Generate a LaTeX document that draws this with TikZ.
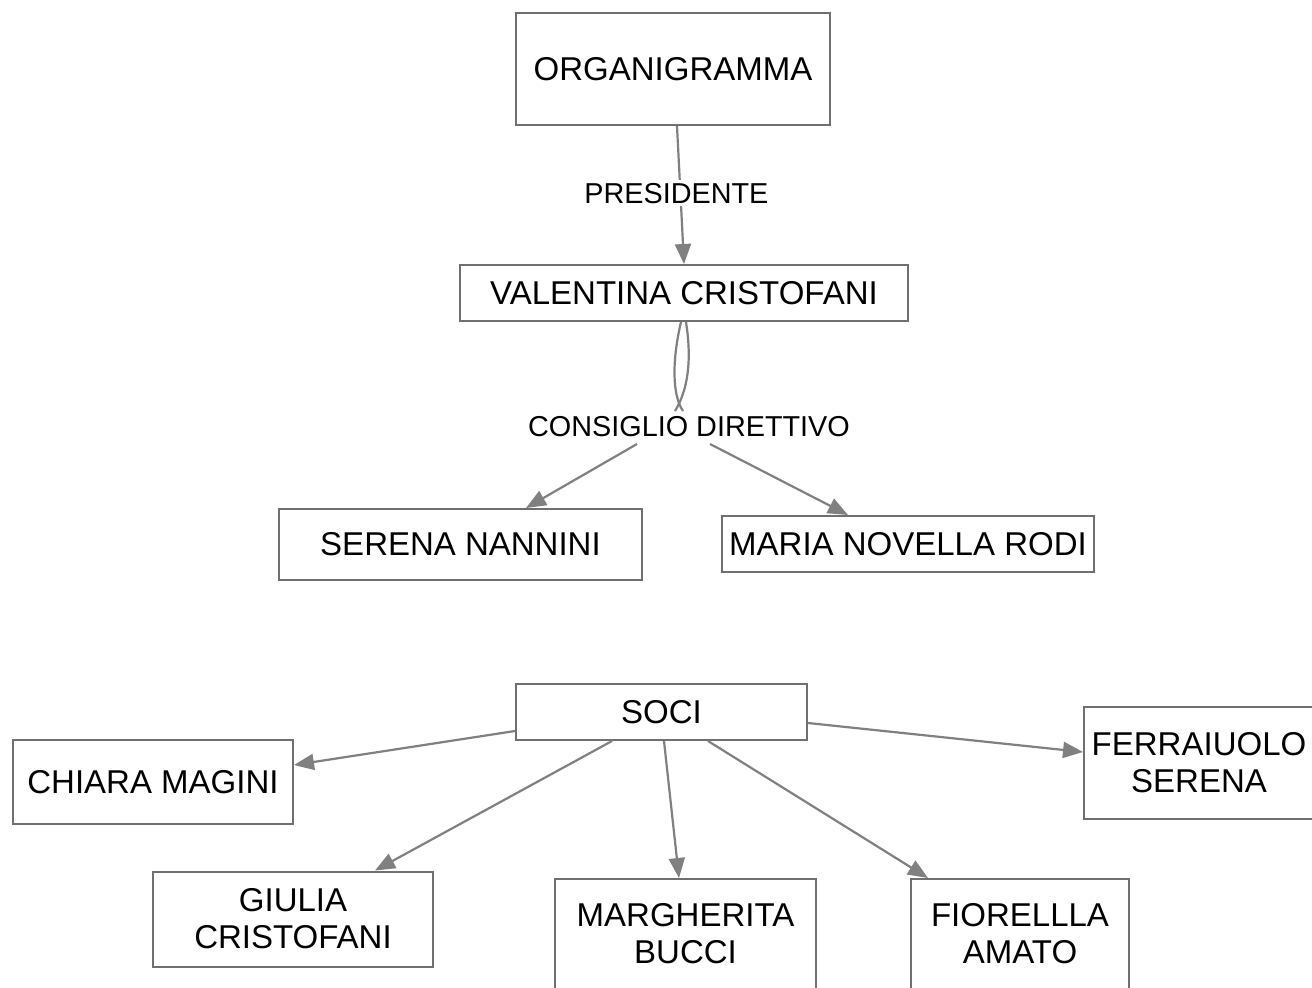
\documentclass[tikz,border=0pt]{standalone}
\usepackage{fontspec}
\setmainfont{Liberation Sans}
\usetikzlibrary{arrows.meta}
\definecolor{edgegray}{HTML}{808080}
\definecolor{boxgray}{HTML}{707070}
\tikzset{
  box/.style={draw=boxgray, line width=2pt, fill=white, inner sep=0pt, align=center,
    font=\fontsize{33}{37}\selectfont},
  lbl/.style={fill=white, inner sep=3pt, font=\fontsize{28.8}{32}\selectfont},
  conn/.style={draw=edgegray, line width=2.2pt},
  arr/.style={conn, -{Triangle[length=20pt,width=16pt]}}
}
\begin{document}
\begin{tikzpicture}[x=1pt,y=-1pt]
\useasboundingbox (0,0) rectangle (1312,988);
% nodes
\node[box, minimum width=314pt, minimum height=112pt] (org) at (673,69) {ORGANIGRAMMA};
\node[box, minimum width=448pt, minimum height=56pt] (val) at (684,293) {VALENTINA CRISTOFANI};
\node[box, minimum width=363pt, minimum height=71pt] (sere) at (460.5,544.5) {SERENA NANNINI};
\node[box, minimum width=372pt, minimum height=56pt] (maria) at (908,544) {MARIA NOVELLA RODI};
\node[box, minimum width=291pt, minimum height=56pt] (soci) at (661.5,712) {SOCI};
\node[box, minimum width=280pt, minimum height=84pt] (chiara) at (153,782) {CHIARA MAGINI};
\node[box, minimum width=230pt, minimum height=112pt] (ferr) at (1199,763) {FERRAIUOLO\\SERENA};
\node[box, minimum width=280pt, minimum height=95pt] (giulia) at (293,919) {GIULIA\\CRISTOFANI};
\node[box, minimum width=261pt, minimum height=110pt] (marg) at (685.5,934) {MARGHERITA\\BUCCI};
\node[box, minimum width=218pt, minimum height=110pt] (fior) at (1020,934) {FIORELLLA\\AMATO};
\node[lbl, inner sep=0pt] (cons) at (689,427) {CONSIGLIO DIRETTIVO};
% edges
\draw[arr] ([xshift=4pt]org.south) -- (val.north)
  node[lbl, pos=0.487, xshift=-4pt] (pres) {PRESIDENTE};
\draw[conn] ([xshift=-3pt]val.south) .. controls (672,360) and (672,395) .. ([xshift=-6pt,yshift=16pt]cons.center);
\draw[conn] ([xshift=2pt]val.south) .. controls (692,360) and (688,390) .. ([xshift=-14pt,yshift=16pt]cons.center);
\draw[arr] ([xshift=-52pt,yshift=-17pt]cons.center) -- ([xshift=65.5pt]sere.north);
\draw[arr] ([xshift=21pt,yshift=-17pt]cons.center) -- ([xshift=-60pt]maria.north);
\draw[arr] ([yshift=-19pt]soci.west) -- ([yshift=17pt]chiara.east);
\draw[arr] ([yshift=-11pt]soci.east) -- ([yshift=11pt]ferr.west);
\draw[arr] ([xshift=-49.5pt]soci.south) -- ([xshift=82pt]giulia.north);
\draw[arr] ([xshift=2.5pt]soci.south) -- ([xshift=-6.5pt]marg.north);
\draw[arr] ([xshift=46.5pt]soci.south) -- ([xshift=-92pt]fior.north);
\end{tikzpicture}
\end{document}
